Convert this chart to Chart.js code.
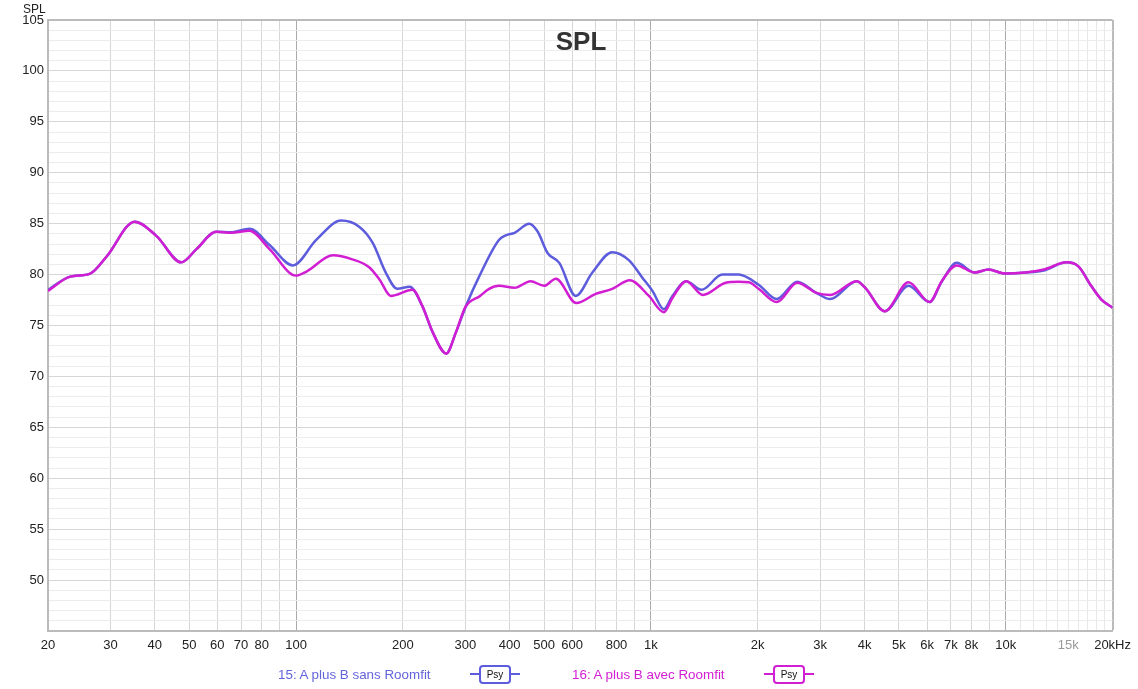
<!DOCTYPE html>
<html>
<head>
<meta charset="utf-8">
<script src="https://cdn.jsdelivr.net/npm/chart.js@4.4.0/dist/chart.umd.min.js"></script>
<style>
  body { margin: 0; background: #fff; font-family: "Liberation Sans", Arial, sans-serif; }
  #wrap { position: relative; width: 1138px; height: 689px; }
  #title { position: absolute; left: 481px; width: 200px; top: 26px; text-align: center; font-weight: bold; font-size: 26px; color: #333; }
  #ylab { position: absolute; left: 23px; top: 2px; font-size: 12px; color: #222; }
  .leg { position: absolute; top: 666px; font-size: 13.4px; line-height: 18px; }
  .psy { position: absolute; top: 665px; height: 19px; }
  .psy .ln { position: absolute; top: 8px; height: 2px; width: 50px; left: 0; }
  .psy .bx { position: absolute; left: 9px; top: 0; width: 28px; height: 15px; border: 2px solid; border-radius: 4px; background: #fff;
             font-size: 10px; line-height: 15px; text-align: center; color: #111; }
</style>
</head>
<body>
<div id="wrap">
  <canvas id="splChart"></canvas>
  <div id="title">SPL</div>
  <div id="ylab">SPL</div>
  <div class="leg" style="left:278px;color:#6464dc">15: A plus B sans Roomfit</div>
  <div class="psy" style="left:470px"><div class="ln" style="background:#5c5cdc"></div><div class="bx" style="border-color:#5c5cdc">Psy</div></div>
  <div class="leg" style="left:572px;color:#d21ed2">16: A plus B avec Roomfit</div>
  <div class="psy" style="left:764px"><div class="ln" style="background:#d21ed2"></div><div class="bx" style="border-color:#d21ed2">Psy</div></div>
</div>
<script>
// 15: A plus B sans Roomfit
const freqSans = [20, 23.1, 26.3, 29.3, 35.1, 40.4, 47.5, 52.4, 59.6, 65.6, 74, 84.2, 98, 114, 134, 150.6, 164.6, 179, 193, 209,
  227, 243, 265, 282, 301, 328, 373, 390, 413, 454, 479, 512, 552, 614, 684, 778, 868, 946, 1010, 1088, 1150, 1258, 1388,
  1590, 1766, 2012, 2261, 2586, 2925, 3203, 3800, 4020, 4560, 5320, 6100, 6600, 7270, 8180, 8940, 9940, 11340, 12800,
  14840, 16020, 17440, 18600, 20000];
const splSans = [78.5, 79.8, 80.1, 81.8, 85.2, 83.8, 81.2, 82.5, 84.2, 84.15, 84.5, 82.9, 80.9, 83.4, 85.3, 84.7, 83.1, 80.2, 78.6, 78.8,
  76.9, 74.3, 72.25, 74.3, 76.9, 79.8, 83.4, 83.85, 84.1, 85.0, 84.25, 82.1, 81.15, 77.9, 80.2, 82.2, 81.4, 79.7, 78.4, 76.6, 77.9, 79.35, 78.5,
  80.0, 80.0, 79.0, 77.6, 79.3, 78.2, 77.6, 79.35, 78.7, 76.4, 78.9, 77.3, 79.3, 81.15, 80.2, 80.5, 80.1, 80.2, 80.4,
  81.2, 80.8, 78.85, 77.55, 76.75];

// 16: A plus B avec Roomfit
const freqAvec = [20, 23.1, 26.3, 29.3, 35.1, 40.4, 47.5, 52.4, 59.6, 65.6, 74, 84.2, 100, 107, 127, 144, 161, 172, 185, 213,
  227, 243, 265, 282, 300, 330, 350, 373, 413, 458, 500, 540, 616, 699, 778, 872, 987, 1088, 1150, 1258, 1400,
  1624, 1766, 1888, 2012, 2261, 2586, 2925, 3203, 3800, 4020, 4560, 5320, 6100, 6600, 7270, 8180, 8940, 9940, 11340, 12800,
  14840, 16020, 17440, 18600, 20000];
const splAvec = [78.4, 79.8, 80.1, 81.8, 85.2, 83.8, 81.2, 82.5, 84.2, 84.1, 84.3, 82.5, 79.9, 80.3, 81.9, 81.5, 80.7, 79.5, 77.9, 78.5,
  76.9, 74.3, 72.25, 74.3, 76.8, 77.9, 78.6, 78.9, 78.7, 79.35, 78.9, 79.6, 77.2, 78.1, 78.6, 79.45, 77.9, 76.3, 77.7, 79.35, 78.0,
  79.2, 79.3, 79.25, 78.6, 77.3, 79.2, 78.2, 78.0, 79.35, 78.7, 76.4, 79.25, 77.3, 79.35, 80.9, 80.2, 80.5, 80.1, 80.2, 80.5,
  81.2, 80.8, 78.85, 77.55, 76.75];

const freqTicks = [20, 30, 40, 50, 60, 70, 80, 90, 100, 200, 300, 400, 500, 600, 700, 800, 900, 1000,
  2000, 3000, 4000, 5000, 6000, 7000, 8000, 9000, 10000, 11000, 12000, 13000, 14000, 15000, 16000, 17000, 18000, 19000, 20000];
const freqLabels = {20:'20', 30:'30', 40:'40', 50:'50', 60:'60', 70:'70', 80:'80', 100:'100', 200:'200', 300:'300', 400:'400',
  500:'500', 600:'600', 800:'800', 1000:'1k', 2000:'2k', 3000:'3k', 4000:'4k', 5000:'5k', 6000:'6k', 7000:'7k', 8000:'8k',
  10000:'10k', 15000:'15k', 20000:'20kHz'};
const dbMin = 45, dbMax = 105;

const pts = (f, v) => f.map((x, i) => ({x: x, y: v[i]}));

const ctx = document.getElementById('splChart');
new Chart(ctx, {
  type: 'line',
  data: {
    datasets: [
      { label: '15: A plus B sans Roomfit', data: pts(freqSans, splSans), borderColor: '#5c5cdc', borderWidth: 2.5,
        pointRadius: 0, cubicInterpolationMode: 'monotone', order: 2 },
      { label: '16: A plus B avec Roomfit', data: pts(freqAvec, splAvec), borderColor: '#d21ed2', borderWidth: 2.5,
        pointRadius: 0, cubicInterpolationMode: 'monotone', order: 1 }
    ]
  },
  options: {
    responsive: true,
    maintainAspectRatio: false,
    animation: false,
    layout: { padding: { left: 0, top: 20, right: 22, bottom: 0 } },
    plugins: { legend: { display: false }, tooltip: { enabled: false } },
    scales: {
      x: {
        type: 'logarithmic', min: 20, max: 20000,
        afterBuildTicks: (s) => { s.ticks = freqTicks.map(v => ({value: v})); },
        afterFit: (s) => { s.height = 58; },
        border: { color: '#bbb', width: 2 },
        grid: {
          drawTicks: false,
          color: (c) => {
            const v = c.tick ? c.tick.value : 0;
            if (v === 20000) return '#bbb';
            if (v === 100 || v === 1000 || v === 10000) return '#aaa';
            if (v > 10000) return '#e8e8e8';
            return '#d6d6d6';
          },
          lineWidth: (c) => (c.tick && c.tick.value === 20000 ? 2 : 1)
        },
        ticks: {
          autoSkip: false, maxRotation: 0, padding: 7,
          font: { family: 'Liberation Sans', size: 13 },
          color: (c) => (c.tick && c.tick.value === 15000 ? '#999' : '#222'),
          callback: (v) => freqLabels[v] || ''
        }
      },
      y: {
        min: dbMin, max: dbMax,
        afterBuildTicks: (s) => {
          const t = [];
          for (let v = dbMin; v <= dbMax; v++) t.push({value: v});
          s.ticks = t;
        },
        afterFit: (s) => { s.width = 48; },
        border: { color: '#bbb', width: 2 },
        grid: {
          drawTicks: false,
          color: (c) => {
            const v = c.tick ? c.tick.value : 0;
            if (v === dbMax) return '#bbb';
            return v % 5 === 0 ? '#d6d6d6' : '#ececec';
          },
          lineWidth: (c) => (c.tick && c.tick.value === dbMax ? 2 : 1)
        },
        ticks: {
          autoSkip: false, padding: 4,
          font: { family: 'Liberation Sans', size: 13 },
          color: '#222',
          callback: (v) => (v % 5 === 0 && v >= 50 ? String(v) : '')
        }
      }
    }
  }
});
</script>
</body>
</html>
